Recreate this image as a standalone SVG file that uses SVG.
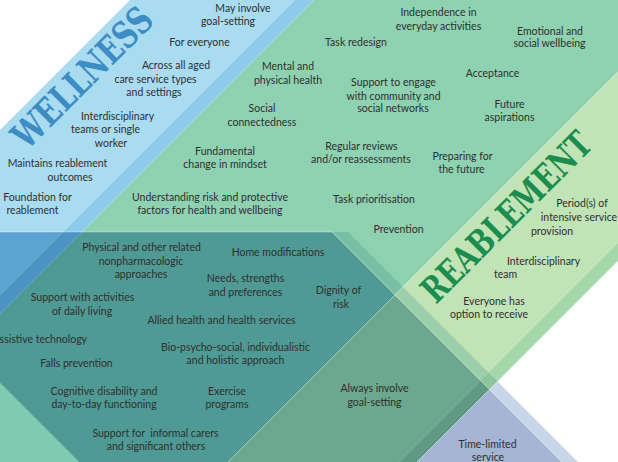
<svg xmlns="http://www.w3.org/2000/svg" width="618" height="462" viewBox="0 0 618 462">
<style>
.t{font-family:Lato,"Liberation Sans",sans-serif;font-size:10.5px;fill:#2f2f2f;text-anchor:middle}
.edge{stroke:#ffffff;stroke-opacity:0.35;stroke-width:1;fill:none}
.title{font-family:"DejaVu Serif",serif;font-weight:bold}
</style>
<rect width="618" height="462" fill="#ffffff"/>
<g id="regions">
<polygon points="314,0 618,0 618,72 228,462 0,462 0,314" fill="#8ed2b2"/>
<polygon points="130,0 295,0 0,295 0,130" fill="#a9dcf1"/>
<polygon points="295,0 314,0 0,314 0,295" fill="#8ecbea"/>
<polygon points="618,72 618,243 399,462 228,462" fill="#c1e4b7"/>
<polygon points="618,243 618,261 417,462 399,462" fill="#a4d7a9"/>
<polygon points="82,232 332,232 395,295 228,462 79,462 0,383 0,314" fill="#4f9a94"/>
<polygon points="0,383 79,462 0,462" fill="#7fcab0"/>
<polygon points="0,232 63,232 0,295" fill="#5ba4d2"/>
<polygon points="63,232 82,232 0,314 0,295" fill="#4c94c2"/>
<polygon points="395,295 480.5,380.5 399,462 228,462" fill="#6ba88f"/>
<polygon points="480.5,380.5 489.5,389.5 417,462 399,462" fill="#5f9985"/>
<polygon points="489.5,389.5 562,462 417,462" fill="#a4b6d4"/>
<polygon points="332,232 348,232 403,287 395,295" fill="#78bfa4"/>
<polygon points="395,295 403,287 488.5,372.5 480.5,380.5" fill="#9ccfa9"/>
<polygon points="480.5,380.5 488.5,372.5 497.5,381.5 489.5,389.5" fill="#8cc49b"/>
<polygon points="489.5,389.5 497.5,381.5 578,462 562,462" fill="#c9d6e7"/>
</g>
<g id="edges">
<line class="edge" x1="0" y1="232" x2="332" y2="232"/>
<line class="edge" x1="332" y1="232" x2="562" y2="462"/>
<line class="edge" x1="618" y1="72" x2="228" y2="462"/>
<line class="edge" x1="618" y1="261" x2="417" y2="462"/>
</g>
<g id="wellness-title">
<text class="title" x="27" y="151" transform="rotate(-45 27 151)" font-size="37" fill="#3d8cc3" textLength="182" lengthAdjust="spacingAndGlyphs">WELLNESS</text>
</g>
<g id="reablement-title">
<text class="title" x="436" y="305" transform="rotate(-45 436 305)" font-size="36" fill="#1d8c4f" textLength="224" lengthAdjust="spacingAndGlyphs">REABLEMENT</text>
</g>
<g id="wellness-labels">
<text class="t" x="243" y="12">May involve</text>
<text class="t" x="228" y="25">goal-setting</text>
<text class="t" x="199.5" y="45.5">For everyone</text>
<text class="t" x="176" y="69">Across all aged</text>
<text class="t" x="155.5" y="83">care service types</text>
<text class="t" x="154" y="95.5">and settings</text>
<text class="t" x="117.5" y="120">Interdisciplinary</text>
<text class="t" x="105.5" y="133">teams or single</text>
<text class="t" x="111" y="146.5">worker</text>
<text class="t" x="57.5" y="167">Maintains reablement</text>
<text class="t" x="70" y="180.5">outcomes</text>
<text class="t" x="37.5" y="200.5">Foundation for</text>
<text class="t" x="32.5" y="214">reablement</text>
</g>
<g id="shared-labels">
<text class="t" x="288" y="69.5">Mental and</text>
<text class="t" x="288" y="84">physical health</text>
<text class="t" x="262" y="112">Social</text>
<text class="t" x="262" y="125.5">connectedness</text>
<text class="t" x="225" y="154.5">Fundamental</text>
<text class="t" x="225" y="168">change in mindset</text>
<text class="t" x="210" y="200.5">Understanding risk and protective</text>
<text class="t" x="210" y="214">factors for health and wellbeing</text>
<text class="t" x="438.5" y="16">Independence in</text>
<text class="t" x="438.5" y="29.5">everyday activities</text>
<text class="t" x="550" y="34.5">Emotional and</text>
<text class="t" x="549.5" y="47">social wellbeing</text>
<text class="t" x="356" y="46">Task redesign</text>
<text class="t" x="492.5" y="76.5">Acceptance</text>
<text class="t" x="393.5" y="85.5">Support to engage</text>
<text class="t" x="393.5" y="99.5">with community and</text>
<text class="t" x="393" y="112">social networks</text>
<text class="t" x="509.5" y="108">Future</text>
<text class="t" x="509.5" y="121">aspirations</text>
<text class="t" x="361.5" y="150">Regular reviews</text>
<text class="t" x="361" y="163">and/or reassessments</text>
<text class="t" x="462.5" y="160">Preparing for</text>
<text class="t" x="461.5" y="173">the future</text>
<text class="t" x="374" y="203">Task prioritisation</text>
<text class="t" x="398.5" y="232.5">Prevention</text>
</g>
<g id="reablement-labels">
<text class="t" x="582" y="207">Period(s) of</text>
<text class="t" x="579" y="221">intensive service</text>
<text class="t" x="552" y="234.5">provision</text>
<text class="t" x="543.5" y="264.5">Interdisciplinary</text>
<text class="t" x="505.5" y="278">team</text>
<text class="t" x="494" y="305">Everyone has</text>
<text class="t" x="489" y="318">option to receive</text>
</g>
<g id="restorative-labels">
<text class="t" x="141.5" y="251">Physical and other related</text>
<text class="t" x="141" y="264.5">nonpharmacologic</text>
<text class="t" x="141" y="278">approaches</text>
<text class="t" x="278" y="255.5">Home modifications</text>
<text class="t" x="245.5" y="282">Needs, strengths</text>
<text class="t" x="245.5" y="295.5">and preferences</text>
<text class="t" x="338.5" y="294">Dignity of</text>
<text class="t" x="341" y="307.5">risk</text>
<text class="t" x="82.5" y="301">Support with activities</text>
<text class="t" x="82" y="314.5">of daily living</text>
<text class="t" x="221.5" y="324">Allied health and health services</text>
<text class="t" x="87" y="343" style="text-anchor:end">Assistive technology</text>
<text class="t" x="235.5" y="350.5">Bio-psycho-social, individualistic</text>
<text class="t" x="235.5" y="364">and holistic approach</text>
<text class="t" x="76.5" y="367">Falls prevention</text>
<text class="t" x="104" y="394.5">Cognitive disability and</text>
<text class="t" x="104" y="408">day-to-day functioning</text>
<text class="t" x="227" y="394.5">Exercise</text>
<text class="t" x="227" y="408">programs</text>
<text class="t" x="155.5" y="436.5" style="white-space:pre">Support for  informal carers</text>
<text class="t" x="156" y="450">and significant others</text>
<text class="t" x="374.5" y="392">Always involve</text>
<text class="t" x="374.5" y="405.5">goal-setting</text>
<text class="t" x="487.5" y="448">Time-limited</text>
<text class="t" x="488" y="461">service</text>
</g>
</svg>
